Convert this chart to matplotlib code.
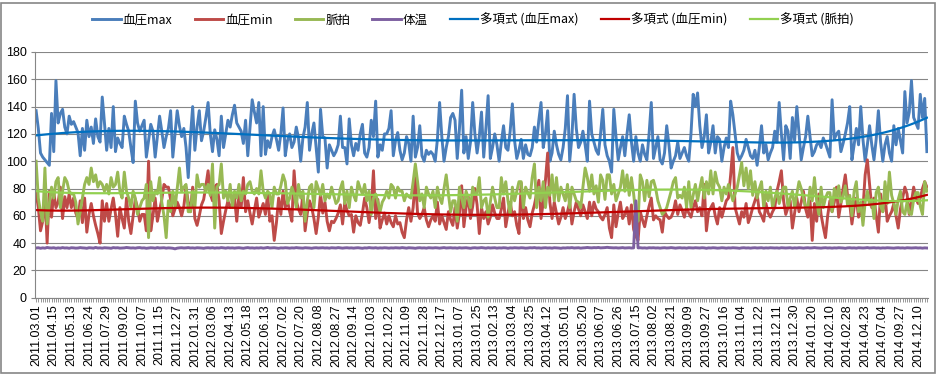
import numpy as np
import matplotlib
matplotlib.use('Agg')
import matplotlib.pyplot as plt
from matplotlib.patches import Rectangle

plt.rcParams['font.family'] = ['Liberation Sans', 'Noto Sans CJK JP']

date_labels = [
    '2011.03.01', '2011.04.15', '2011.05.13', '2011.06.24', '2011.07.29', '2011.09.02',
    '2011.10.07', '2011.11.15', '2011.12.27', '2012.01.31', '2012.03.06', '2012.04.13',
    '2012.05.18', '2012.06.13', '2012.07.02', '2012.07.20', '2012.08.08', '2012.08.27',
    '2012.09.14', '2012.10.03', '2012.10.22', '2012.11.09', '2012.11.28', '2012.12.17',
    '2013.01.07', '2013.01.25', '2013.02.13', '2013.03.04', '2013.03.25', '2013.04.12',
    '2013.05.01', '2013.05.20', '2013.06.07', '2013.06.26', '2013.07.15', '2013.08.02',
    '2013.08.21', '2013.09.09', '2013.09.27', '2013.10.16', '2013.11.04', '2013.11.22',
    '2013.12.11', '2013.12.30', '2014.01.20', '2014.02.10', '2014.02.28', '2014.04.23',
    '2014.07.04', '2014.09.27', '2014.12.10',
]

bp_max = [
    137, 124, 106, 103, 101, 99, 97, 135, 107, 159,
    128, 135, 138, 125, 120, 133, 127, 129, 125, 121,
    104, 124, 108, 130, 118, 125, 113, 131, 118, 114,
    147, 128, 108, 124, 110, 140, 107, 117, 113, 110,
    133, 127, 122, 110, 99, 144, 128, 122, 126, 130,
    103, 115, 127, 122, 103, 118, 133, 122, 110, 118,
    124, 137, 103, 120, 137, 126, 118, 124, 110, 88,
    118, 140, 108, 125, 137, 115, 122, 132, 143, 120,
    107, 123, 116, 104, 133, 110, 120, 130, 125, 134,
    141, 128, 125, 122, 113, 130, 104, 125, 145, 136,
    128, 143, 104, 140, 105, 115, 110, 118, 123, 116,
    108, 120, 139, 104, 115, 120, 110, 114, 125, 117,
    100, 117, 125, 143, 108, 120, 128, 110, 92, 138,
    118, 117, 95, 112, 108, 104, 107, 112, 133, 110,
    110, 98, 131, 112, 104, 113, 108, 120, 127, 106,
    103, 110, 130, 118, 144, 103, 112, 108, 120, 120,
    124, 137, 104, 115, 121, 108, 101, 106, 118, 113,
    100, 133, 103, 110, 126, 104, 100, 108, 105, 107,
    105, 100, 116, 143, 118, 100, 110, 118, 132, 135,
    130, 102, 124, 152, 106, 118, 102, 114, 143, 120,
    106, 118, 136, 103, 124, 148, 102, 110, 120, 112,
    100, 114, 126, 110, 108, 122, 142, 115, 102, 108,
    116, 102, 112, 105, 104, 110, 125, 114, 130, 143,
    110, 120, 137, 100, 106, 122, 112, 105, 101, 110,
    124, 148, 100, 118, 149, 124, 110, 114, 122, 112,
    100, 144, 120, 114, 108, 105, 120, 138, 112, 104,
    100, 92, 138, 118, 101, 110, 118, 104, 120, 134,
    114, 100, 118, 106, 100, 112, 105, 101, 120, 143,
    102, 110, 118, 101, 98, 106, 126, 112, 95, 100,
    104, 114, 102, 106, 110, 104, 100, 120, 149, 140,
    150, 126, 110, 118, 134, 106, 114, 126, 106, 118,
    116, 100, 110, 117, 110, 144, 134, 120, 106, 101,
    104, 108, 116, 110, 104, 102, 108, 97, 110, 126,
    106, 112, 101, 106, 110, 122, 114, 143, 120, 101,
    126, 122, 102, 132, 115, 140, 120, 101, 110, 118,
    133, 118, 104, 107, 112, 114, 110, 117, 113, 108,
    103, 145, 116, 120, 122, 107, 113, 120, 128, 140,
    101, 112, 124, 112, 140, 116, 100, 112, 126, 112,
    101, 116, 137, 114, 100, 112, 118, 106, 100, 126,
    112, 124, 115, 106, 151, 128, 136, 159, 132, 128,
    124, 149, 132, 146, 107,
]

bp_min = [
    77, 66, 49, 56, 76, 40, 78, 59, 77, 66,
    70, 81, 58, 74, 66, 76, 66, 73, 62, 58,
    71, 55, 73, 48, 61, 69, 60, 53, 47, 40,
    71, 56, 69, 56, 65, 73, 61, 45, 66, 58,
    51, 73, 56, 47, 60, 72, 66, 56, 61, 61,
    49, 100, 49, 60, 73, 56, 64, 72, 83, 81,
    81, 72, 60, 65, 70, 66, 60, 67, 81, 70,
    63, 81, 58, 53, 60, 68, 72, 82, 93, 76,
    71, 81, 83, 71, 47, 56, 64, 71, 66, 69,
    73, 56, 76, 66, 88, 63, 71, 62, 54, 64,
    73, 59, 64, 69, 61, 76, 56, 60, 42, 55,
    73, 61, 78, 66, 71, 63, 56, 93, 71, 65,
    61, 76, 49, 62, 71, 66, 58, 47, 59, 76,
    62, 70, 56, 49, 56, 55, 58, 62, 68, 54,
    70, 64, 60, 61, 48, 60, 55, 53, 62, 73,
    66, 55, 66, 93, 58, 72, 51, 57, 62, 54,
    60, 55, 52, 60, 54, 55, 48, 44, 57, 66,
    56, 66, 88, 62, 58, 61, 66, 57, 52, 57,
    60, 56, 70, 54, 60, 55, 50, 63, 57, 53,
    66, 51, 62, 82, 52, 66, 74, 58, 67, 80,
    68, 47, 66, 58, 63, 54, 59, 68, 62, 58,
    58, 65, 73, 52, 62, 70, 60, 63, 53, 47,
    84, 58, 66, 57, 52, 62, 68, 76, 86, 58,
    70, 86, 106, 70, 58, 70, 62, 54, 59, 66,
    58, 63, 70, 54, 63, 70, 65, 60, 68, 63,
    58, 70, 60, 70, 65, 63, 59, 57, 61, 66,
    51, 44, 68, 52, 62, 70, 58, 61, 66, 54,
    68, 50, 45, 42, 63, 57, 52, 60, 67, 73,
    57, 60, 58, 57, 48, 63, 60, 58, 59, 63,
    71, 61, 68, 64, 59, 66, 62, 59, 66, 71,
    63, 66, 60, 83, 49, 63, 66, 69, 60, 54,
    66, 59, 65, 71, 73, 90, 110, 66, 60, 54,
    63, 59, 69, 55, 60, 66, 71, 76, 63, 60,
    56, 69, 62, 59, 63, 66, 78, 85, 93, 71,
    61, 66, 71, 51, 62, 73, 63, 70, 78, 65,
    59, 71, 42, 69, 56, 76, 61, 52, 44, 60,
    71, 63, 70, 81, 59, 69, 80, 90, 75, 69,
    54, 66, 73, 59, 63, 65, 90, 101, 83, 66,
    73, 60, 48, 76, 63, 76, 56, 60, 63, 69,
    60, 51, 65, 73, 81, 76, 61, 70, 81, 73,
    69, 73, 80, 85, 81,
]

pulse = [
    100, 73, 63, 56, 95, 54, 69, 81, 73, 85,
    88, 66, 78, 88, 85, 78, 76, 76, 70, 54,
    63, 73, 83, 88, 83, 95, 85, 90, 81, 85,
    83, 78, 83, 76, 88, 81, 83, 92, 78, 73,
    92, 78, 73, 66, 78, 73, 61, 66, 71, 73,
    83, 44, 85, 71, 78, 76, 88, 70, 60, 44,
    71, 63, 78, 66, 80, 95, 78, 81, 83, 63,
    63, 78, 66, 90, 81, 83, 83, 78, 83, 75,
    98, 51, 81, 83, 98, 73, 78, 71, 83, 66,
    78, 73, 83, 71, 78, 76, 83, 85, 78, 76,
    80, 76, 93, 78, 73, 78, 76, 66, 81, 76,
    76, 82, 90, 85, 69, 73, 81, 76, 66, 83,
    73, 78, 56, 71, 81, 83, 66, 85, 80, 75,
    83, 71, 76, 73, 81, 75, 69, 71, 80, 85,
    69, 78, 66, 81, 75, 71, 85, 80, 76, 83,
    71, 78, 61, 73, 76, 70, 63, 70, 73, 78,
    73, 83, 81, 73, 81, 78, 78, 71, 76, 74,
    73, 85, 98, 85, 71, 76, 66, 81, 76, 73,
    78, 66, 81, 73, 69, 80, 90, 76, 63, 71,
    71, 56, 81, 73, 66, 78, 73, 66, 81, 76,
    76, 88, 66, 71, 73, 59, 70, 81, 73, 66,
    66, 88, 76, 85, 71, 61, 81, 71, 78, 85,
    85, 66, 81, 77, 73, 88, 98, 66, 81, 71,
    85, 66, 81, 75, 90, 71, 88, 71, 81, 76,
    71, 83, 66, 81, 76, 71, 70, 66, 81, 95,
    88, 78, 90, 76, 82, 70, 90, 86, 72, 90,
    90, 76, 83, 71, 76, 81, 93, 78, 90, 75,
    88, 76, 61, 56, 90, 85, 71, 86, 74, 85,
    86, 80, 71, 66, 61, 63, 66, 72, 78, 85,
    88, 73, 75, 73, 81, 66, 85, 66, 75, 83,
    71, 80, 88, 73, 85, 76, 93, 76, 92, 84,
    81, 71, 81, 76, 83, 77, 71, 76, 81, 90,
    99, 82, 95, 80, 93, 75, 85, 73, 80, 85,
    66, 78, 71, 81, 66, 73, 78, 69, 76, 81,
    81, 66, 73, 78, 66, 76, 85, 80, 73, 66,
    66, 81, 71, 88, 71, 61, 81, 66, 73, 77,
    77, 63, 80, 74, 82, 70, 74, 82, 68, 75,
    60, 78, 85, 63, 70, 53, 70, 78, 68, 72,
    58, 77, 81, 67, 63, 85, 69, 92, 75, 69,
    61, 72, 78, 63, 61, 70, 62, 61, 72, 77,
    77, 67, 61, 85, 78,
]

temp = [
    36.4, 36.6, 36.2, 36.5, 36.3, 36.8, 36.5, 36.4, 36.6, 36.2,
    36.5, 36.3, 36.7, 36.4, 36.5, 36.2, 36.6, 36.5, 36.3, 36.4,
    36.7, 36.5, 36.4, 36.2, 36.6, 36.5, 36.3, 36.8, 36.4, 36.5,
    36.3, 36.6, 36.5, 36.4, 36.2, 36.7, 36.5, 36.6, 36.3, 36.4,
    36.5, 36.8, 36.6, 36.4, 36.5, 36.3, 36.6, 36.7, 36.4, 36.5,
    36.2, 36.4, 36.6, 36.5, 36.3, 36.7, 36.4, 36.5, 36.6, 36.3,
    36.5, 36.4, 36.2, 35.8, 36.3, 36.5, 36.6, 36.4, 36.5, 36.7,
    36.4, 36.5, 36.3, 36.6, 36.5, 36.4, 36.2, 36.5, 36.6, 36.4,
    36.6, 36.3, 36.5, 36.4, 36.7, 36.5, 36.3, 36.6, 36.4, 36.5,
    36.3, 36.5, 36.6, 36.4, 36.2, 36.5, 36.7, 36.4, 36.5, 36.3,
    36.5, 36.4, 36.6, 36.3, 36.5, 36.8, 36.4, 36.5, 36.6, 36.4,
    36.2, 36.5, 36.4, 36.6, 36.5, 36.3, 36.5, 36.4, 36.7, 36.5,
    36.4, 36.3, 36.6, 36.5, 36.4, 36.2, 36.5, 36.6, 36.4, 36.5,
    36.6, 36.4, 36.5, 36.3, 36.6, 36.5, 36.4, 36.7, 36.5, 36.3,
    36.5, 36.6, 36.4, 36.5, 36.3, 36.5, 36.6, 36.4, 36.2, 36.5,
    36.4, 36.7, 36.5, 36.4, 36.6, 36.3, 36.5, 36.4, 36.6, 36.5,
    36.3, 36.5, 36.4, 36.6, 36.5, 36.4, 36.7, 36.5, 36.3, 36.6,
    36.5, 36.4, 36.2, 36.5, 36.6, 36.4, 36.5, 36.3, 36.6, 36.5,
    36.4, 36.6, 36.5, 36.3, 36.5, 36.7, 36.4, 36.5, 36.6, 36.4,
    36.5, 36.3, 36.6, 36.4, 36.5, 36.6, 36.4, 36.2, 36.5, 36.6,
    36.4, 36.5, 36.7, 36.5, 36.3, 36.6, 36.4, 36.5, 36.6, 36.3,
    36.5, 36.4, 36.6, 36.5, 36.2, 36.5, 36.4, 36.6, 36.5, 36.4,
    36.6, 36.5, 36.3, 36.4, 36.6, 36.5, 36.7, 36.4, 36.5, 36.3,
    36.5, 36.6, 36.4, 36.5, 36.3, 36.6, 36.5, 36.4, 36.2, 36.5,
    36.4, 36.6, 36.5, 36.7, 36.4, 36.5, 36.6, 36.3, 36.5, 36.6,
    36.8, 36.6, 36.5, 36.7, 36.6, 36.8, 36.5, 36.6, 36.7, 36.9,
    36.7, 36.6, 36.5, 36.6, 36.4, 36.5, 36.7, 36.4, 36.5, 36.6,
    36.4, 36.5, 71.0, 36.5, 36.6, 36.4, 36.5, 36.3, 36.6, 36.5,
    36.6, 36.4, 36.5, 36.3, 36.5, 36.6, 36.4, 36.5, 36.7, 36.5,
    36.3, 36.5, 36.6, 36.4, 36.5, 36.3, 36.6, 36.5, 36.4, 36.6,
    36.5, 36.4, 36.6, 36.5, 36.2, 36.5, 36.4, 36.6, 36.5, 36.3,
    36.4, 36.6, 36.5, 36.3, 36.5, 36.4, 36.6, 36.5, 36.4, 36.2,
    36.5, 36.6, 36.4, 36.5, 36.3, 36.5, 36.6, 36.4, 36.5, 36.6,
    36.3, 36.5, 36.4, 36.6, 36.5, 36.4, 36.5, 36.3, 36.6, 36.5,
    36.4, 36.5, 36.6, 36.3, 36.5, 36.4, 36.6, 36.5, 36.3, 36.5,
    36.6, 36.4, 36.5, 36.7, 36.5, 36.4, 36.3, 36.5, 36.6, 36.4,
    36.5, 36.3, 36.5, 36.4, 36.6, 36.5, 36.4, 36.2, 36.5, 36.6,
    36.4, 36.5, 36.3, 36.6, 36.5, 36.4, 36.5, 36.7, 36.4, 36.5,
    36.6, 36.4, 36.5, 36.3, 36.5, 36.4, 36.6, 36.5, 36.4, 36.3,
    36.5, 36.6, 36.4, 36.5, 36.3, 36.6, 36.5, 36.4, 36.5, 36.6,
    36.4, 36.5, 36.3, 36.5, 36.4,
]

series_names = ['血圧max', '血圧min', '脈拍', '体温']
trend_names = ['多項式 (血圧max)', '多項式 (血圧min)', '多項式 (脈拍)']
label_step = 8

lens = [len(bp_max), len(bp_min), len(pulse), len(temp)]
assert len(set(lens)) == 1, f"length mismatch {lens}"
N = lens[0]
x = np.arange(N)

fig = plt.figure(figsize=(9.37, 3.75), dpi=100)
ax = fig.add_axes([35 / 937, 77.3 / 375, 893 / 937, 245.7 / 375])

colors = ['#4A7EBB', '#BE4B48', '#98B954', '#7D60A0']
trend_colors = ['#0070C0', '#C00000', '#92D050']
handles = []
for data, name, c in zip([bp_max, bp_min, pulse, temp], series_names, colors):
    h, = ax.plot(x, data, color=c, lw=2.1, label=name, solid_joinstyle='round')
    handles.append(h)

for data, name, c in zip([bp_max, bp_min, pulse], trend_names, trend_colors):
    p = np.polynomial.Polynomial.fit(x + 1, np.asarray(data, float), 6)
    h, = ax.plot(x, p(x + 1), color=c, lw=1.6, label=name)
    handles.append(h)

ax.set_xlim(-0.5, N - 0.5)
ax.set_ylim(0, 180)
ax.set_yticks(range(0, 181, 20))
ax.grid(axis='y', color='#868686', lw=0.8)
ax.set_axisbelow(True)
for s in ['top', 'right']:
    ax.spines[s].set_visible(False)
for s in ['left', 'bottom']:
    ax.spines[s].set_color('#868686')
    ax.spines[s].set_linewidth(0.8)

ax.set_xticks(x)
tick_labels = [''] * N
for k, lab in enumerate(date_labels):
    if k * label_step < N:
        tick_labels[k * label_step] = lab
ax.set_xticklabels(tick_labels, rotation=90, fontsize=9)
ax.tick_params(axis='x', length=3, width=0.6, color='#868686', pad=1.5)
ax.tick_params(axis='y', length=3, width=0.8, color='#868686', labelsize=9, pad=3)

fig.legend(handles=handles, loc='center', bbox_to_anchor=(0.505, 0.947),
           ncol=7, frameon=False, handlelength=2.3, handletextpad=0.15,
           columnspacing=1.75, prop={'family': ['Noto Sans CJK JP'], 'size': 9})

fig.patches.append(Rectangle((1.5 / 937, 2.5 / 375), 933.5 / 937, 370 / 375,
                             transform=fig.transFigure, fill=False,
                             edgecolor='#868686', lw=1.2))

fig.savefig('out.png', dpi=100)
